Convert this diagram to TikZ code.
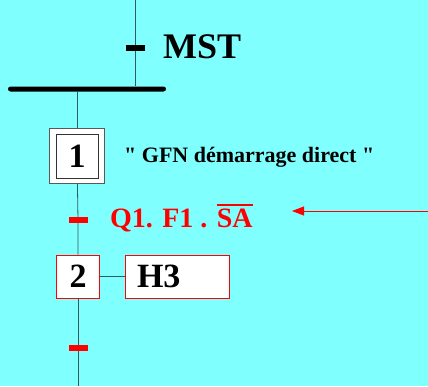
\documentclass[tikz,border=0pt]{standalone}
\usepackage{fontspec}
\setmainfont{Liberation Serif}
\usetikzlibrary{arrows.meta}

\definecolor{grafcetbg}{RGB}{128,255,255}
\definecolor{linkteal}{RGB}{50,90,90}

\newcommand{\barred}[1]{\leavevmode\vbox{\hrule height 2.4pt \kern 3pt \hbox{#1}}}

\tikzset{
  link/.style={draw=linkteal, line width=0.8pt},
  tick/.style={rectangle, fill=red, minimum width=19pt, minimum height=6pt, inner sep=0pt},
  bar/.style={rectangle, fill=black, rounded corners=2.5pt, minimum width=158pt, minimum height=5pt, inner sep=0pt},
  initouter/.style={rectangle, draw=gray!70!black, fill=white, line width=0.8pt,
    minimum width=55pt, minimum height=55pt, inner sep=0pt},
  initinner/.style={rectangle, draw=black!80, fill=white, line width=0.8pt,
    minimum width=42pt, minimum height=44pt, inner sep=0pt, font=\fontsize{34}{34}\selectfont\bfseries},
  stepbox/.style={rectangle, draw=red, fill=white, line width=0.9pt, minimum width=43pt, minimum height=43pt,
    inner sep=0pt, font=\fontsize{34}{34}\selectfont\bfseries},
  actionbox/.style={rectangle, draw=red, fill=white, line width=0.9pt, minimum height=43pt, inner xsep=12pt,
    text width=80pt, align=left, font=\fontsize{34}{34}\selectfont\bfseries},
}

\begin{document}
\begin{tikzpicture}[x=1pt, y=-1pt]
  % Background
  \fill[grafcetbg] (0,0) rectangle (428,386);
  \useasboundingbox (0,0) rectangle (428,386);

  % Bar and transitions
  \node[bar] (bar) at (87,89) {};
  \node[tick, fill=black] (tmst) at (135,48) {};
  \node[tick] (t1) at (78,220) {};
  \node[tick] (t2) at (78,348) {};

  % Steps
  \node[initouter] (e1) at (77,156) {};
  \node[initinner] (e1in) at (e1.center) {1};
  \node[stepbox] (e2) at (78,276.5) {2};
  \node[actionbox] (a2) at (177,276.5) {H3};

  % Free ends
  \coordinate (top) at (135,0);
  \coordinate (bottom) at (78,386);
  \coordinate (arrowtail) at (428,211);
  \coordinate (arrowtip) at (292,211);

  % Links
  \draw[link] (top) -- (tmst) -- (tmst |- bar.north);
  \draw[link] (bar.south -| e1) -- (e1);
  \draw[link] (e1) -- (t1) -- (e2);
  \draw[link] (e2) -- (t2) -- (bottom);
  \draw[link] (e2) -- (a2);
  \draw[red, line width=0.8pt, -{Triangle[length=12pt, width=9pt]}] (arrowtail) -- (arrowtip);

  % Labels
  \node[anchor=west, inner sep=0pt, font=\fontsize{36}{36}\selectfont\bfseries] (mst) at (163,47) {MST};
  \node[anchor=west, inner sep=0pt, font=\fontsize{22}{22}\selectfont\bfseries] (gfn) at (124,157)
    {\textquotedbl{} GFN démarrage direct \textquotedbl};
  \node[anchor=west, inner sep=0pt, red, font=\fontsize{28}{28}\selectfont\bfseries] (rcpt) at (110,218)
    {Q1. F1 . \barred{SA}};
\end{tikzpicture}
\end{document}
